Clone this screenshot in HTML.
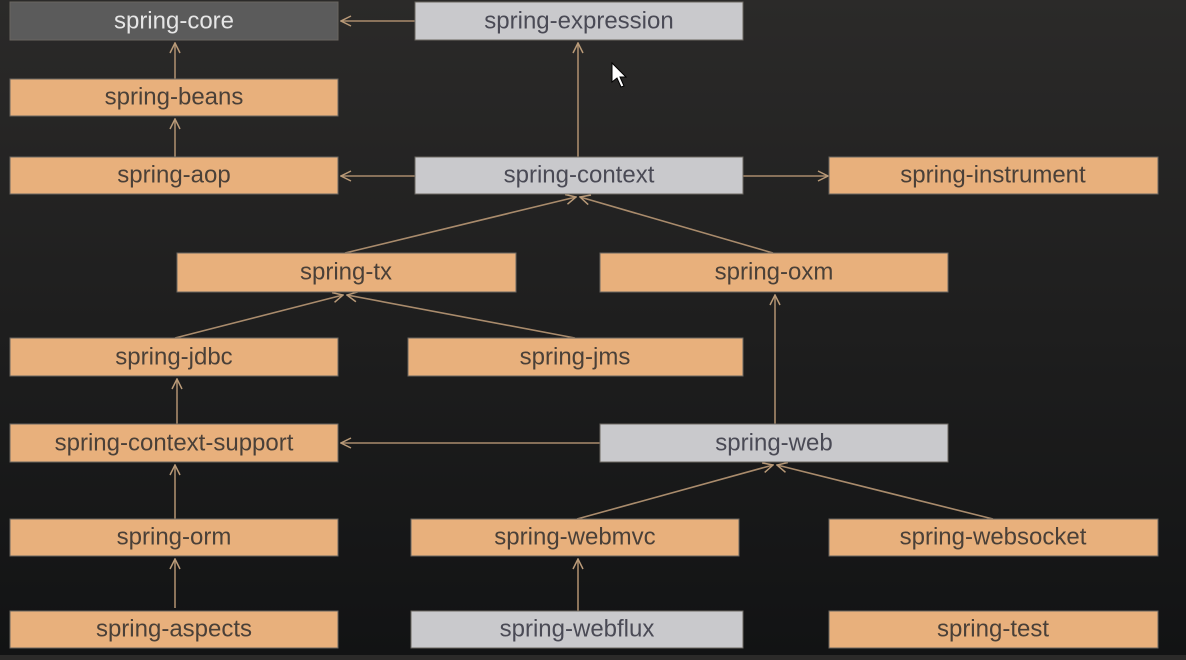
<!DOCTYPE html>
<html><head><meta charset="utf-8"><style>
html,body{margin:0;padding:0;}
body{width:1186px;height:655px;overflow:hidden;background:linear-gradient(180deg,#2b2a29 0%,#1e1e1e 50%,#121314 100%);}
svg text{font-family:"Liberation Sans",sans-serif;font-size:24px;text-anchor:middle;dominant-baseline:central;fill:#4a4038;}
</style></head><body>
<svg width="1186" height="655" xmlns="http://www.w3.org/2000/svg">
<defs>
<marker id="a" viewBox="0 0 12 12" refX="11" refY="6" markerWidth="12" markerHeight="12" markerUnits="userSpaceOnUse" orient="auto">
<path d="M1 1 L11 6 L1 11" fill="none" stroke="#b99a78" stroke-width="1.5"/>
</marker>
</defs>
<g stroke="#a98b6c" stroke-width="1.6" fill="none" marker-end="url(#a)">
<line x1="415" y1="21" x2="341" y2="21"/>
<line x1="175" y1="79" x2="175" y2="43"/>
<line x1="175" y1="157" x2="175" y2="119"/>
<line x1="578" y1="157" x2="578" y2="43"/>
<line x1="415" y1="176" x2="341" y2="176"/>
<line x1="743" y1="176" x2="828" y2="176"/>
<line x1="345" y1="253" x2="576" y2="197"/>
<line x1="773" y1="253" x2="580" y2="197"/>
<line x1="175" y1="338" x2="343" y2="295"/>
<line x1="575" y1="338" x2="347" y2="295"/>
<line x1="177" y1="424" x2="177" y2="379"/>
<line x1="600" y1="443" x2="341" y2="443"/>
<line x1="775" y1="424" x2="775" y2="295"/>
<line x1="175" y1="519" x2="175" y2="465"/>
<line x1="577" y1="519" x2="773" y2="465"/>
<line x1="993" y1="519" x2="777" y2="465"/>
<line x1="175" y1="608" x2="175" y2="559"/>
<line x1="578" y1="611" x2="578" y2="559"/>
</g>
<g stroke="#6a6660" stroke-width="1">
<rect x="10" y="2" width="328" height="38" fill="#5b5b5b"/>
<rect x="415" y="2" width="328" height="38" fill="#c9c9cc"/>
<rect x="10" y="79" width="328" height="37" fill="#e8b07c"/>
<rect x="10" y="157" width="328" height="37" fill="#e8b07c"/>
<rect x="415" y="157" width="328" height="37" fill="#c9c9cc"/>
<rect x="829" y="157" width="329" height="37" fill="#e8b07c"/>
<rect x="177" y="253" width="339" height="39" fill="#e8b07c"/>
<rect x="600" y="253" width="348" height="39" fill="#e8b07c"/>
<rect x="10" y="338" width="328" height="38" fill="#e8b07c"/>
<rect x="408" y="338" width="335" height="38" fill="#e8b07c"/>
<rect x="10" y="424" width="328" height="38" fill="#e8b07c"/>
<rect x="600" y="424" width="348" height="38" fill="#c9c9cc"/>
<rect x="10" y="519" width="328" height="37" fill="#e8b07c"/>
<rect x="411" y="519" width="328" height="37" fill="#e8b07c"/>
<rect x="829" y="519" width="329" height="37" fill="#e8b07c"/>
<rect x="10" y="611" width="328" height="37" fill="#e8b07c"/>
<rect x="411" y="611" width="332" height="37" fill="#c9c9cc"/>
<rect x="829" y="611" width="329" height="37" fill="#e8b07c"/>
</g>
<text x="174" y="21" style="fill:#e6e6e6">spring-core</text>
<text x="579" y="21" style="fill:#4a4a55">spring-expression</text>
<text x="174" y="97">spring-beans</text>
<text x="174" y="175">spring-aop</text>
<text x="579" y="175" style="fill:#4a4a55">spring-context</text>
<text x="993" y="175">spring-instrument</text>
<text x="346" y="272">spring-tx</text>
<text x="774" y="272">spring-oxm</text>
<text x="174" y="357">spring-jdbc</text>
<text x="575" y="357">spring-jms</text>
<text x="174" y="443">spring-context-support</text>
<text x="774" y="443" style="fill:#4a4a55">spring-web</text>
<text x="174" y="537">spring-orm</text>
<text x="575" y="537">spring-webmvc</text>
<text x="993" y="537">spring-websocket</text>
<text x="174" y="629">spring-aspects</text>
<text x="577" y="629" style="fill:#4a4a55">spring-webflux</text>
<text x="993" y="629">spring-test</text>
<path d="M612 63 L612 82 L617 78 L621 87 L624 86 L620 77 L626 77 Z" fill="#fff" stroke="#000" stroke-width="1"/>
</svg>
</body></html>
